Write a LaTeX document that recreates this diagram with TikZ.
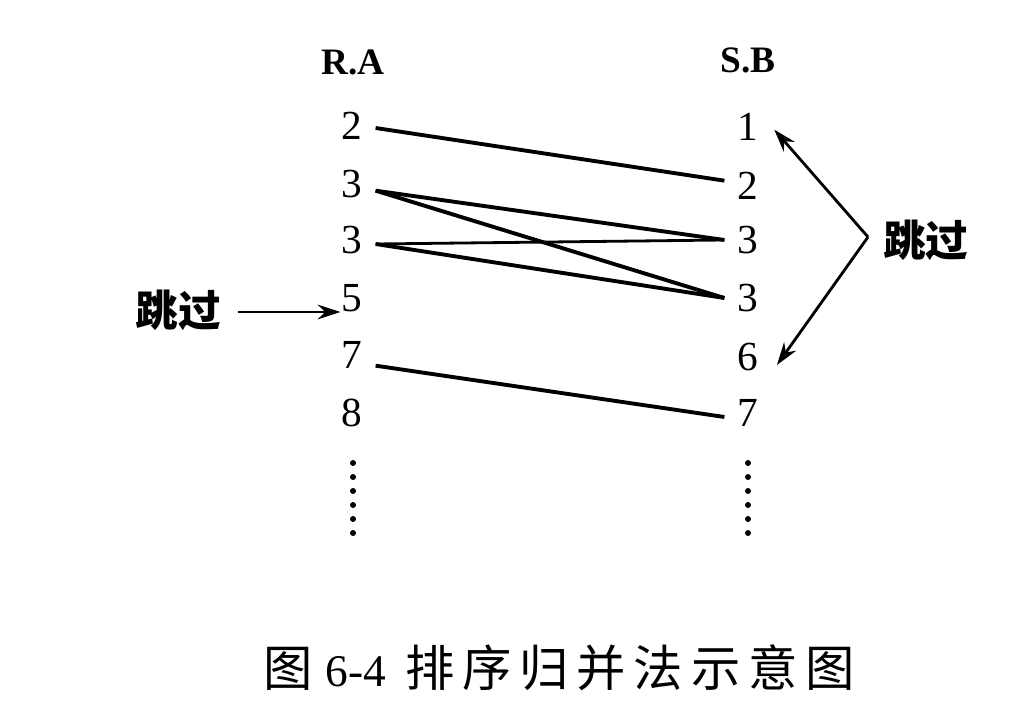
\documentclass[tikz,border=0pt]{standalone}
\usepackage{fontspec}
\setmainfont{Liberation Serif}
\newfontfamily\cjk{Noto Sans CJK SC}
\usetikzlibrary{arrows.meta}
\begin{document}
\begin{tikzpicture}[x=0.75pt,y=-0.75pt,
  num/.style={font=\fontsize{31}{31}\selectfont, inner xsep=13pt*0.75, inner ysep=0pt},
  head/.style={font=\fontsize{28}{28}\selectfont\bfseries, inner sep=0pt},
  skip/.style={font=\fontsize{32}{32}\selectfont\cjk\bfseries, inner sep=0pt},
  link/.style={line width=2.9pt},
  thin link/.style={line width=2.1pt},
  pointer/.style={line width=2.1pt, -{Stealth[length=17pt, width=11pt]}},
  dotty/.style={fill=black}]
\useasboundingbox (0,0) rectangle (1024,712);
% headers
\node[head] (ha) at (353,62) {R.A};
\node[head] (hb) at (748,60) {S.B};
% left column
\node[num] (a1) at (352,126) {2};
\node[num] (a2) at (352,184) {3};
\node[num] (a3) at (352,240) {3};
\node[num] (a4) at (352,298) {5};
\node[num] (a5) at (352,355) {7};
\node[num] (a6) at (352,413) {8};
% right column
\node[num] (b1) at (748,127) {1};
\node[num] (b2) at (748,186) {2};
\node[num] (b3) at (748,240) {3};
\node[num] (b4) at (748,298) {3};
\node[num] (b5) at (748,357) {6};
\node[num] (b6) at (748,413) {7};
% links
\draw[link] ([yshift=-1.5pt]a1.east) -- ([yshift=4pt]b2.west);
\draw[link] ([yshift=-5pt]a2.east) -- (b3.west);
\draw[link] ([yshift=-5pt]a2.east) -- (b4.west);
\draw[thin link] ([yshift=-3pt]a3.east) -- (b3.west);
\draw[link] ([yshift=-3pt]a3.east) -- (b4.west);
\draw[link] ([yshift=-8pt]a5.east) -- ([yshift=-3pt]b6.west);
% skip labels
\node[skip] (sl) at (178,310) {跳过};
\node[skip, anchor=west] (sr) at (883,240) {跳过};
\coordinate (apex) at (868,237);
\draw[pointer] ([xshift=13pt,yshift=-1.5pt]sl.east) -- ([shift={(9pt,-1.5pt)}]a4.west |- sl.east);
\draw[pointer] (apex) -- ([shift={(2pt,-2pt)}]b1.east);
\draw[pointer] (apex) -- ([shift={(4pt,-6pt)}]b5.east);
% vertical dots
\foreach \y in {463,477,491,505,519,533} {
  \fill[dotty] (353,\y) circle (3);
  \fill[dotty] (748,\y) circle (3);
}
% caption
\node[font=\fontsize{37}{37}\selectfont\cjk, anchor=west, inner sep=0pt] (cap) at (263,668)
  {图\hspace{10pt}{\rmfamily\fontsize{34}{34}\selectfont 6-4}\hspace{14pt}\addfontfeature{LetterSpace=16}排序归并法示意图};
\end{tikzpicture}
\end{document}
